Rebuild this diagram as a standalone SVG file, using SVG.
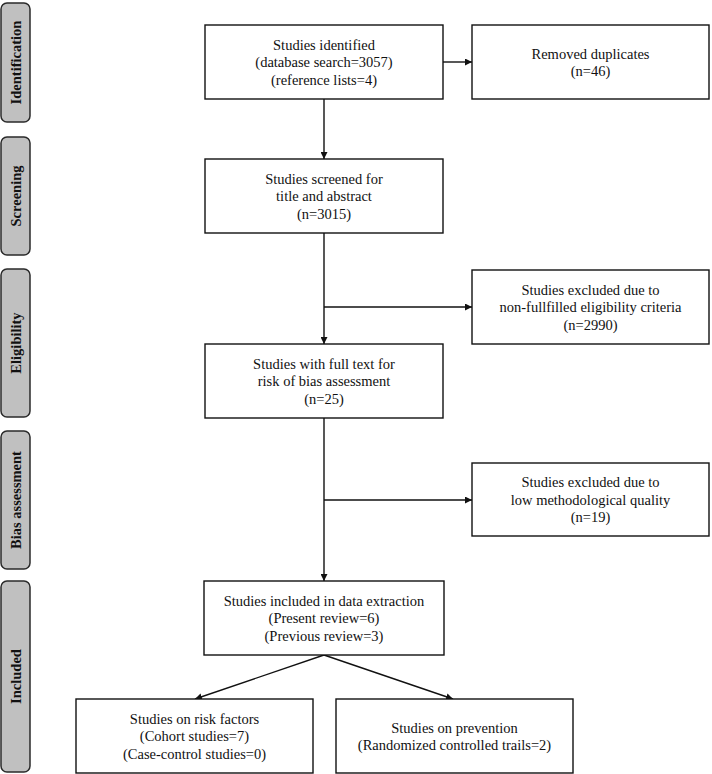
<svg xmlns="http://www.w3.org/2000/svg" width="712" height="774" viewBox="0 0 712 774">
<defs>
<marker id="ah" viewBox="0 0 10 10" refX="10" refY="5" markerWidth="7" markerHeight="7" markerUnits="userSpaceOnUse" orient="auto">
<path d="M0,0 L10,5 L0,10 z" fill="#111"/>
</marker>
</defs>
<style>
.box{fill:#fff;stroke:#111;stroke-width:1.4}
.side{fill:#c0c0c0;stroke:#2a2a2a;stroke-width:1.5}
.t{font-family:"Liberation Serif","Times New Roman",serif;font-size:14.5px;fill:#111;text-anchor:middle}
.st{font-family:"Liberation Serif","Times New Roman",serif;font-size:14.5px;font-weight:bold;fill:#111;text-anchor:middle}
.c{fill:none;stroke:#111;stroke-width:1.4}
</style>
<rect width="712" height="774" fill="#fff"/>
<g id="phase-identification"><rect class="side" x="1" y="3" width="29" height="119" rx="6"/><text class="st" transform="translate(20.5,62.5) rotate(-90)">Identification</text></g>
<g id="phase-screening"><rect class="side" x="1" y="137" width="29" height="118" rx="6"/><text class="st" transform="translate(20.5,196) rotate(-90)">Screening</text></g>
<g id="phase-eligibility"><rect class="side" x="1" y="269" width="29" height="148" rx="6"/><text class="st" transform="translate(20.5,343) rotate(-90)">Eligibility</text></g>
<g id="phase-bias"><rect class="side" x="1" y="431" width="29" height="138" rx="6"/><text class="st" transform="translate(20.5,500) rotate(-90)">Bias assessment</text></g>
<g id="phase-included"><rect class="side" x="1" y="581" width="29" height="191" rx="6"/><text class="st" transform="translate(20.5,676.5) rotate(-90)">Included</text></g>

<g id="connectors">
<line class="c" x1="324" y1="99" x2="324" y2="159" marker-end="url(#ah)"/>
<line class="c" x1="443" y1="62" x2="472" y2="62" marker-end="url(#ah)"/>
<line class="c" x1="324" y1="233" x2="324" y2="344" marker-end="url(#ah)"/>
<line class="c" x1="324" y1="307" x2="472" y2="307" marker-end="url(#ah)"/>
<line class="c" x1="324" y1="418" x2="324" y2="581" marker-end="url(#ah)"/>
<line class="c" x1="324" y1="500" x2="472" y2="500" marker-end="url(#ah)"/>
<line class="c" x1="324" y1="655" x2="195" y2="699" marker-end="url(#ah)"/>
<line class="c" x1="324" y1="655" x2="453" y2="699" marker-end="url(#ah)"/>
</g>

<g id="identified"><rect class="box" x="205" y="25" width="238" height="74"/>
<text class="t" x="324" y="49.5">Studies identified</text><text class="t" x="324" y="67">(database search=3057)</text><text class="t" x="324" y="84.5">(reference lists=4)</text></g>
<g id="duplicates"><rect class="box" x="472" y="25" width="237" height="74"/>
<text class="t" x="590.5" y="58.5">Removed duplicates</text><text class="t" x="590.5" y="76">(n=46)</text></g>
<g id="screened"><rect class="box" x="205" y="159" width="238" height="74"/>
<text class="t" x="324" y="183.5">Studies screened for</text><text class="t" x="324" y="201">title and abstract</text><text class="t" x="324" y="218.5">(n=3015)</text></g>
<g id="excluded-eligibility"><rect class="box" x="472" y="270" width="237" height="74"/>
<text class="t" x="590.5" y="294.5">Studies excluded due to</text><text class="t" x="590.5" y="312">non-fullfilled eligibility criteria</text><text class="t" x="590.5" y="329.5">(n=2990)</text></g>
<g id="fulltext"><rect class="box" x="205" y="344" width="238" height="74"/>
<text class="t" x="324" y="368.5">Studies with full text for</text><text class="t" x="324" y="386">risk of bias assessment</text><text class="t" x="324" y="403.5">(n=25)</text></g>
<g id="excluded-quality"><rect class="box" x="472" y="463" width="237" height="73"/>
<text class="t" x="590.5" y="487">Studies excluded due to</text><text class="t" x="590.5" y="504.5">low methodological quality</text><text class="t" x="590.5" y="522">(n=19)</text></g>
<g id="included"><rect class="box" x="204" y="581" width="240" height="74"/>
<text class="t" x="324" y="605.5">Studies included in data extraction</text><text class="t" x="324" y="623">(Present review=6)</text><text class="t" x="324" y="640.5">(Previous review=3)</text></g>
<g id="risk-factors"><rect class="box" x="76" y="699" width="237" height="74"/>
<text class="t" x="194.5" y="723.5">Studies on risk factors</text><text class="t" x="194.5" y="741">(Cohort studies=7)</text><text class="t" x="194.5" y="758.5">(Case-control studies=0)</text></g>
<g id="prevention"><rect class="box" x="336" y="699" width="237" height="74"/>
<text class="t" x="454.5" y="732.5">Studies on prevention</text><text class="t" x="454.5" y="750">(Randomized controlled trails=2)</text></g>
</svg>
